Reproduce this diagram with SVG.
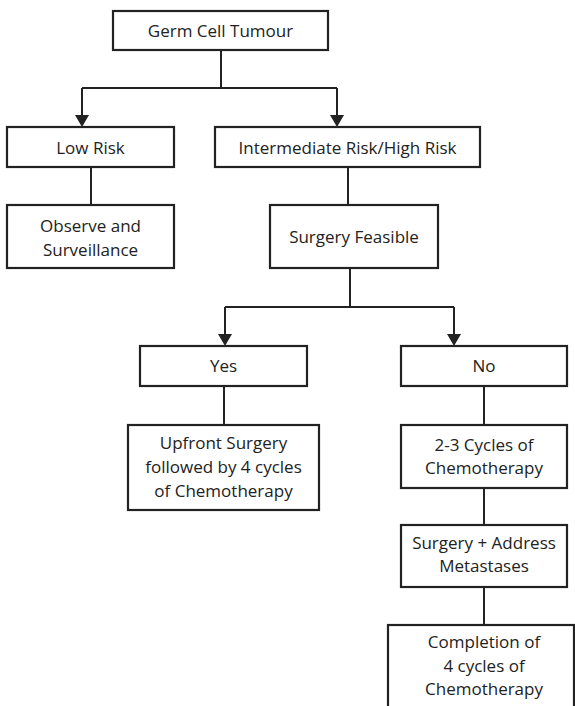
<svg xmlns="http://www.w3.org/2000/svg" width="575" height="706" viewBox="0 0 575 706">
  <style>
    .box { fill: #ffffff; stroke: #222222; stroke-width: 2.2; }
    .lbl { font-family: "Open Sans", "Liberation Sans", sans-serif; font-size: 17px; fill: #222222; text-anchor: middle; }
    .wire { fill: none; stroke: #222222; stroke-width: 2; }
    .head { fill: #222222; }
  </style>
  <rect width="575" height="706" fill="#ffffff"/>

  <!-- connectors: elbow lines with filled arrowheads -->
  <g id="connectors">
    <path class="wire" d="M221,50 V88"/>
    <path class="wire" d="M82,88 H337"/>
    <path class="wire" d="M82,88 V115"/>
    <path class="wire" d="M337,88 V115"/>
    <path class="head" d="M75,115 L89,115 L82,127 Z"/>
    <path class="head" d="M330,115 L344,115 L337,127 Z"/>
    <path class="wire" d="M91,167 V205"/>
    <path class="wire" d="M348,167 V205"/>
    <path class="wire" d="M350,268 V307"/>
    <path class="wire" d="M225,307 H454"/>
    <path class="wire" d="M225,307 V334"/>
    <path class="wire" d="M454,307 V334"/>
    <path class="head" d="M218,334 L232,334 L225,346 Z"/>
    <path class="head" d="M447,334 L461,334 L454,346 Z"/>
    <path class="wire" d="M224,386 V425"/>
    <path class="wire" d="M484,386 V425"/>
    <path class="wire" d="M484,488 V525"/>
    <path class="wire" d="M484,587 V625"/>
  </g>

  <g id="germ-cell-tumour">
    <rect class="box" x="113" y="11" width="215" height="39"/>
    <text class="lbl" x="220.5" y="37">Germ Cell Tumour</text>
  </g>

  <g id="low-risk">
    <rect class="box" x="7" y="127" width="167" height="40"/>
    <text class="lbl" x="90.5" y="154">Low Risk</text>
  </g>

  <g id="intermediate-high-risk">
    <rect class="box" x="215" y="127" width="265" height="40"/>
    <text class="lbl" x="347.5" y="154">Intermediate Risk/High Risk</text>
  </g>

  <g id="observe-surveillance">
    <rect class="box" x="7" y="205" width="167" height="63"/>
    <text class="lbl" x="90.5" y="232">Observe and</text>
    <text class="lbl" x="90.5" y="256">Surveillance</text>
  </g>

  <g id="surgery-feasible">
    <rect class="box" x="270" y="205" width="168" height="63"/>
    <text class="lbl" x="354" y="243">Surgery Feasible</text>
  </g>

  <g id="yes">
    <rect class="box" x="140" y="346" width="167" height="40"/>
    <text class="lbl" x="223.5" y="372">Yes</text>
  </g>

  <g id="no">
    <rect class="box" x="401" y="346" width="166" height="40"/>
    <text class="lbl" x="484" y="372">No</text>
  </g>

  <g id="upfront-surgery">
    <rect class="box" x="128" y="425" width="191" height="85"/>
    <text class="lbl" x="223.5" y="449">Upfront Surgery</text>
    <text class="lbl" x="223.5" y="473">followed by 4 cycles</text>
    <text class="lbl" x="223.5" y="497">of Chemotherapy</text>
  </g>

  <g id="cycles-chemotherapy">
    <rect class="box" x="401" y="425" width="166" height="63"/>
    <text class="lbl" x="484" y="451">2-3 Cycles of</text>
    <text class="lbl" x="484" y="474">Chemotherapy</text>
  </g>

  <g id="surgery-address-metastases">
    <rect class="box" x="401" y="525" width="166" height="62"/>
    <text class="lbl" x="484" y="549">Surgery + Address</text>
    <text class="lbl" x="484" y="572">Metastases</text>
  </g>

  <g id="completion">
    <rect class="box" x="388" y="625" width="186" height="90"/>
    <text class="lbl" x="484" y="648">Completion of</text>
    <text class="lbl" x="484" y="672">4 cycles of</text>
    <text class="lbl" x="484" y="695">Chemotherapy</text>
  </g>
</svg>
